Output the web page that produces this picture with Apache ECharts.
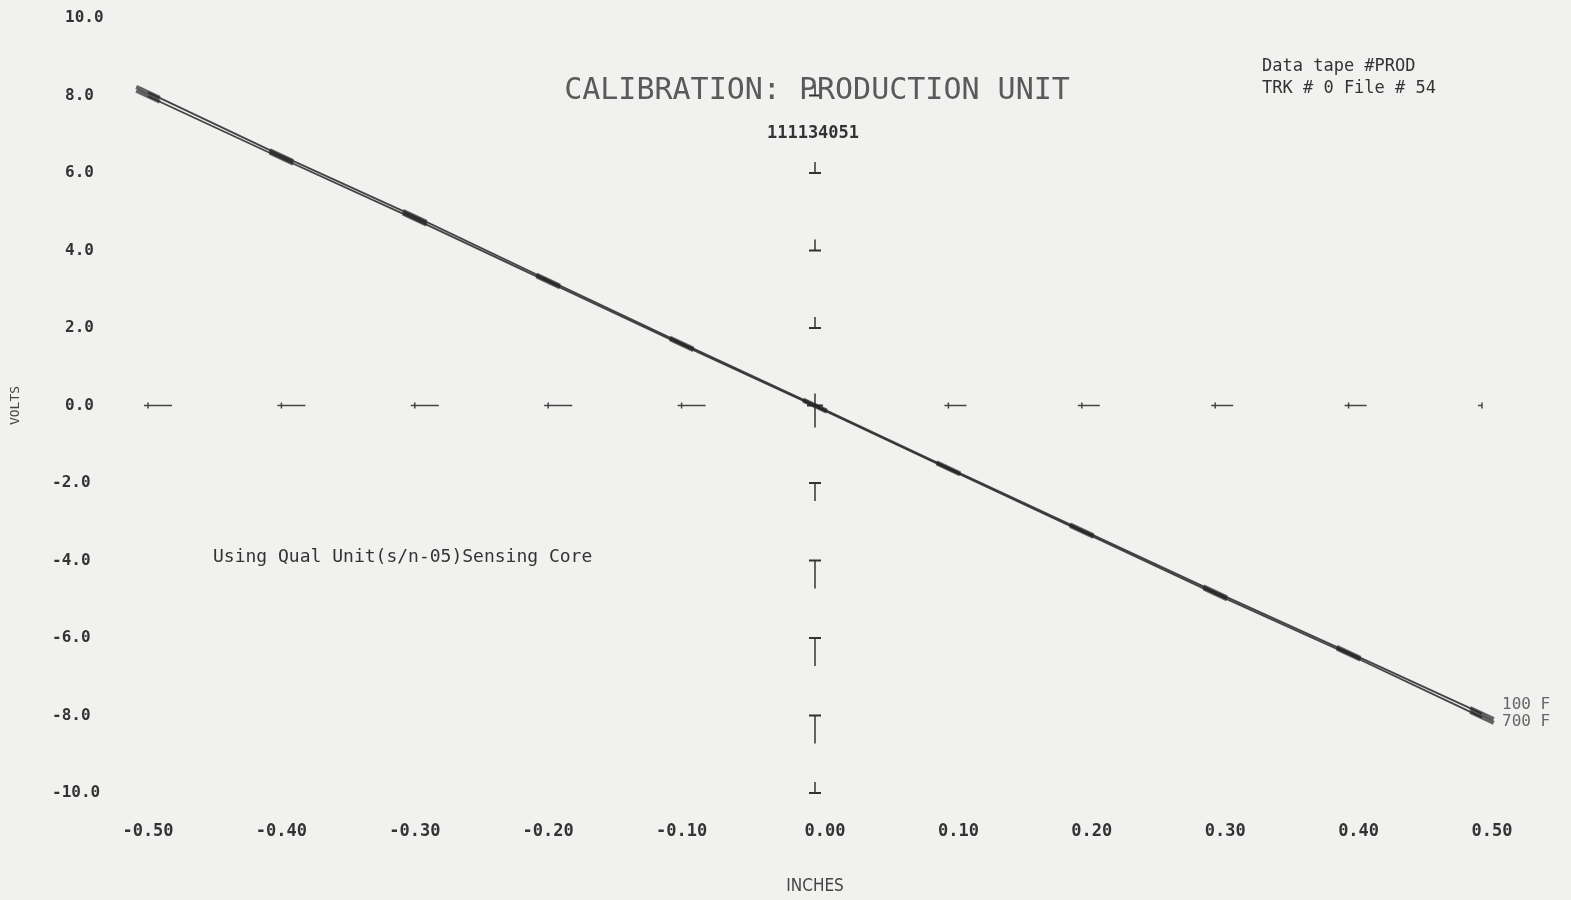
<!DOCTYPE html>
<html>
<head>
<meta charset="utf-8">
<script src="https://cdn.jsdelivr.net/npm/echarts@6/dist/echarts.min.js"></script>
<style>
html,body{margin:0;padding:0;background:#f1f1f0;}
#chart{width:1571px;height:900px;}
</style>
</head>
<body>
<div id="chart"></div>
<script>
// ---- data ----
var inches = [-0.5, -0.4, -0.3, -0.2, -0.1, 0.0, 0.1, 0.2, 0.3, 0.4, 0.5];
var volts100F = [8.08, 6.45, 4.88, 3.24, 1.61, 0.01, -1.61, -3.21, -4.81, -6.37, -7.95];
var volts700F = [7.98, 6.38, 4.81, 3.19, 1.57, -0.02, -1.64, -3.25, -4.86, -6.42, -8.05];
var seriesNames = ['100 F', '700 F'];
var xTicks = [-0.5, -0.4, -0.3, -0.2, -0.1, 0.0, 0.1, 0.2, 0.3, 0.4, 0.5];
var yTicks = [-10, -8, -6, -4, -2, 0, 2, 4, 6, 8, 10];
var titleText = 'CALIBRATION: PRODUCTION UNIT';
var subtitleText = '111134051';
var tapeLines = ['Data tape #PROD', 'TRK # 0 File # 54'];
var noteText = 'Using Qual Unit(s/n-05)Sensing Core';

var FONT = 'DejaVu Sans Mono';
var INK = '#262626';

function pairs(xs, ys){ return xs.map(function(x,i){ return [x, ys[i]]; }); }

// crosshair tick marks along x=0 and y=0 (none drawn at the top end)
var yMarks = yTicks.filter(function(v){return v!==0 && v!==10;}).map(function(v){return [0, v];});
var xMarks = xTicks.filter(function(v){return v!==0;}).map(function(v){return [v, 0];});

function signedLabel(txt, v){
  return v < 0 ? '{n|' + txt + '}' : '{p|' + txt + '}';
}

var chart = echarts.init(document.getElementById('chart'));
chart.setOption({
  backgroundColor: '#f1f1f0',
  animation: false,
  grid: {left: 148, right: 89, top: 18, bottom: 107},
  xAxis: {
    type: 'value', min: -0.5, max: 0.5, interval: 0.1,
    name: 'INCHES', nameLocation: 'middle', nameGap: 85,
    nameTextStyle: {fontFamily: 'Liberation Sans Narrow, DejaVu Sans Condensed', fontSize: 17, color: '#444'},
    axisLine: {show: false}, axisTick: {show: false}, splitLine: {show: false},
    axisLabel: {margin: 30,
      formatter: function(v){ return signedLabel(v.toFixed(2), v); },
      rich: {
        n: {fontFamily: FONT, fontSize: 17, fontWeight: 'bold', color: '#333'},
        p: {fontFamily: FONT, fontSize: 17, fontWeight: 'bold', color: '#333', padding: [0,0,0,20]}
      }}
  },
  yAxis: {
    type: 'value', min: -10, max: 10, interval: 2,
    name: 'VOLTS', nameLocation: 'middle', nameGap: 126, nameRotate: 90,
    nameTextStyle: {fontFamily: FONT, fontSize: 13, color: '#444'},
    axisLine: {show: false}, axisTick: {show: false}, splitLine: {show: false},
    axisLabel: {margin: 96, align: 'left',
      formatter: function(v){ return signedLabel(v.toFixed(1), v); },
      rich: {
        n: {fontFamily: FONT, fontSize: 16, fontWeight: 'bold', color: '#333'},
        p: {fontFamily: FONT, fontSize: 16, fontWeight: 'bold', color: '#333', padding: [0,0,0,13]}
      }}
  },
  title: [
    {text: titleText, left: 812, top: 71, textAlign: 'center',
     textStyle: {fontFamily: FONT, fontWeight: 'normal', fontSize: 30, color: '#5a5a5a'}},
    {text: subtitleText, left: 808, top: 120, textAlign: 'center',
     textStyle: {fontFamily: FONT, fontWeight: 'bold', fontSize: 17, color: '#333'}},
    {text: tapeLines.join('\n'), left: 1257, top: 51,
     textStyle: {fontFamily: FONT, fontWeight: 'normal', fontSize: 17, lineHeight: 22, color: '#333'}},
    {text: noteText, left: 208, top: 543,
     textStyle: {fontFamily: FONT, fontWeight: 'normal', fontSize: 18, color: '#333'}}
  ],
  series: [
    {
      name: seriesNames[0], type: 'line', data: pairs(inches, volts100F),
      symbol: 'rect', symbolSize: [26, 4], symbolRotate: -25,
      itemStyle: {color: INK, opacity: 0.7},
      lineStyle: {color: INK, width: 1.8, opacity: 0.85},
      endLabel: {show: true, formatter: seriesNames[0], fontFamily: FONT, fontSize: 16, color: '#666', offset: [12, -9]}
    },
    {
      name: seriesNames[1], type: 'line', data: pairs(inches, volts700F),
      symbol: 'rect', symbolSize: [26, 4], symbolRotate: -25,
      itemStyle: {color: INK, opacity: 0.7},
      lineStyle: {color: INK, width: 1.8, opacity: 0.85},
      endLabel: {show: true, formatter: seriesNames[1], fontFamily: FONT, fontSize: 16, color: '#666', offset: [12, 4]}
    },
    {
      type: 'custom', data: yMarks, silent: true, z: 3,
      renderItem: function(params, api){
        var p = api.coord([api.value(0), api.value(1)]);
        var v = api.value(1);
        var up = v > 0 || v <= -10;
        var stem = up ? 11 : (v <= -4 ? 28 : 18);
        return {type: 'group', children: [
          {type: 'line', shape: {x1: p[0]-6, y1: p[1], x2: p[0]+6, y2: p[1]}, style: {stroke: '#333', lineWidth: 2}},
          {type: 'line', shape: {x1: p[0], y1: p[1], x2: p[0], y2: up ? p[1]-stem : p[1]+stem}, style: {stroke: '#333', lineWidth: 1.5}}
        ]};
      }
    },
    {
      type: 'custom', data: xMarks, silent: true, z: 3,
      renderItem: function(params, api){
        var p = api.coord([api.value(0), api.value(1)]);
        var len = api.value(0) >= 0.45 ? 0 : (api.value(0) < 0 ? 24 : 18);
        return {type: 'group', children: [
          {type: 'line', shape: {x1: p[0]-4, y1: p[1], x2: p[0]+len, y2: p[1]}, style: {stroke: '#444', lineWidth: 1.5}},
          {type: 'line', shape: {x1: p[0], y1: p[1]-3, x2: p[0], y2: p[1]+3}, style: {stroke: '#444', lineWidth: 1.5}}
        ]};
      }
    },
    {
      type: 'custom', data: [[0, 0]], silent: true, z: 3,
      renderItem: function(params, api){
        var p = api.coord([api.value(0), api.value(1)]);
        return {type: 'group', children: [
          {type: 'line', shape: {x1: p[0], y1: p[1]-12, x2: p[0], y2: p[1]+22}, style: {stroke: '#333', lineWidth: 1.5}},
          {type: 'line', shape: {x1: p[0]-8, y1: p[1], x2: p[0]+8, y2: p[1]}, style: {stroke: '#333', lineWidth: 2}}
        ]};
      }
    }
  ]
});
</script>
</body>
</html>
